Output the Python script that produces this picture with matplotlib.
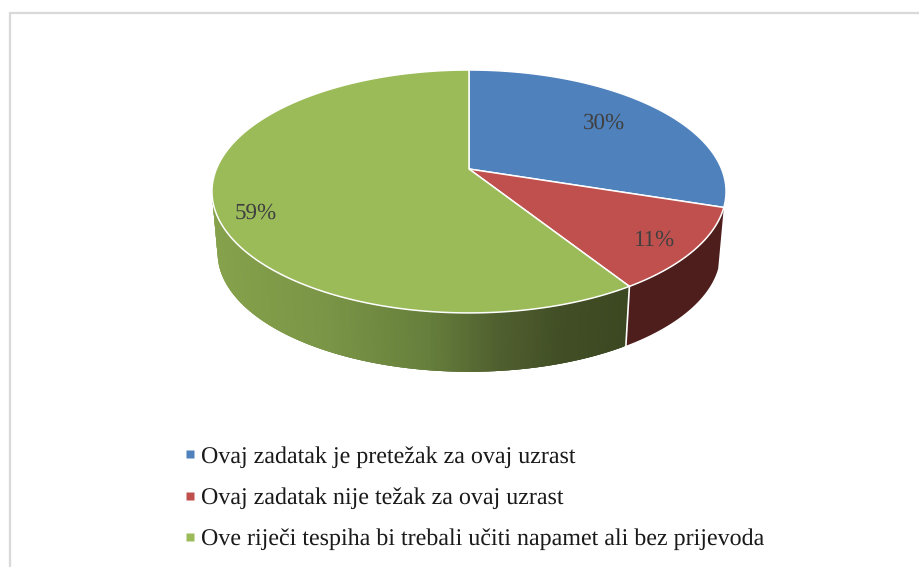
import numpy as np
import matplotlib
matplotlib.use("Agg")
import matplotlib.pyplot as plt
from matplotlib.colors import to_rgb
from matplotlib.lines import Line2D

categories = ["Ovaj zadatak je pretežak za ovaj uzrast",
              "Ovaj zadatak nije težak za ovaj uzrast",
              "Ove riječi tespiha bi trebali učiti napamet ali bez prijevoda"]
values = [30, 11, 59]
labels = ["30%", "11%", "59%"]
colors = ["#4F81BD", "#C0504D", "#9BBB59"]

plt.rcParams['font.family'] = ['Liberation Serif', 'DejaVu Serif']
plt.rcParams['text.hinting'] = 'no_hinting'
plt.rcParams['text.hinting_factor'] = 1

fig = plt.figure(figsize=(9.19, 5.67), dpi=100, facecolor="white")
ax = fig.add_axes([0, 0, 1, 1])
ax.set_xlim(0, 919)
ax.set_ylim(567, 0)
ax.axis("off")

# page frame
ax.plot([9.5, 9.5, 919], [567, 12.5, 12.5], color="#D9D9D9", lw=1.6, solid_joinstyle="miter")

# perspective projection of the pie disc
CX, APEX_Y = 469.0, 169.0
A, B, K = 252.6, 117.3, 0.185
SCALE, BOTTOM_APEX_Y = 0.978, 231.0

def top(theta):
    X, Y = np.sin(theta), np.cos(theta)
    d = 1 + K * Y
    return CX + A * X / d, APEX_Y - B * Y / d

def bottom(theta):
    X, Y = np.sin(theta), np.cos(theta)
    d = 1 + K * Y
    return CX + SCALE * A * X / d, BOTTOM_APEX_Y - SCALE * B * Y / d

edges = 2 * np.pi * np.concatenate([[0], np.cumsum(values)]) / np.sum(values)

# side walls
stop_x = [215, 330, 430, 500, 560, 630]
stop_c = [to_rgb(c) for c in ["#86A24B", "#7A9546", "#667F3C", "#505F2F", "#424F26", "#3A4720"]]

def green_shade(x):
    return tuple(np.interp(x, stop_x, [c[i] for c in stop_c]) for i in range(3))

SILHOUETTE = np.deg2rad(259)
red_th = np.linspace(edges[1], edges[2], 40)
xt, yt = top(red_th)
xb, yb = bottom(red_th)
ax.fill(np.r_[xt, xb[::-1]], np.r_[yt, yb[::-1]], facecolor="#4D1E1C", edgecolor="none", zorder=2)

green_th = np.linspace(edges[2], SILHOUETTE, 240)
for j in range(len(green_th) - 1):
    seg = green_th[j:j + 4]
    xt, yt = top(seg)
    xb, yb = bottom(seg)
    col = green_shade(bottom(green_th[j])[0])
    ax.fill(np.r_[xt, xb[::-1]], np.r_[yt, yb[::-1]], facecolor=col, edgecolor="none", zorder=2)

# white seam between the walls
sx0, sy0 = top(edges[2])
sx1, sy1 = bottom(edges[2])
ax.plot([sx0, sx1], [sy0, sy1], color="white", lw=1.2, zorder=3)

# top face
for i, c in enumerate(colors):
    th = np.linspace(edges[i], edges[i + 1], 200)
    x, y = top(th)
    ax.fill(np.r_[CX, x], np.r_[APEX_Y, y], facecolor=c, edgecolor="white", lw=1.1,
            joinstyle="round", zorder=4)

# data labels
label_xy = [(603.5, 123), (654.5, 240), (256, 213)]
for (lx, ly), t in zip(label_xy, labels):
    ax.text(lx, ly, t, ha="center", va="center", fontsize=16.7, color="#404040", zorder=5)

# legend
handles = [Line2D([], [], linestyle="none", marker="s", markersize=5.2, markerfacecolor=c,
                  markeredgecolor="none") for c in colors]
leg = ax.legend(handles, categories, loc="upper left", bbox_to_anchor=(182, 446),
                bbox_transform=ax.transData, frameon=False, fontsize=17.3, labelcolor="#1a1a1a",
                handlelength=0.7, handletextpad=0.075, labelspacing=0.80, borderpad=0, borderaxespad=0)

fig.savefig("out.png", dpi=100, facecolor="white")
